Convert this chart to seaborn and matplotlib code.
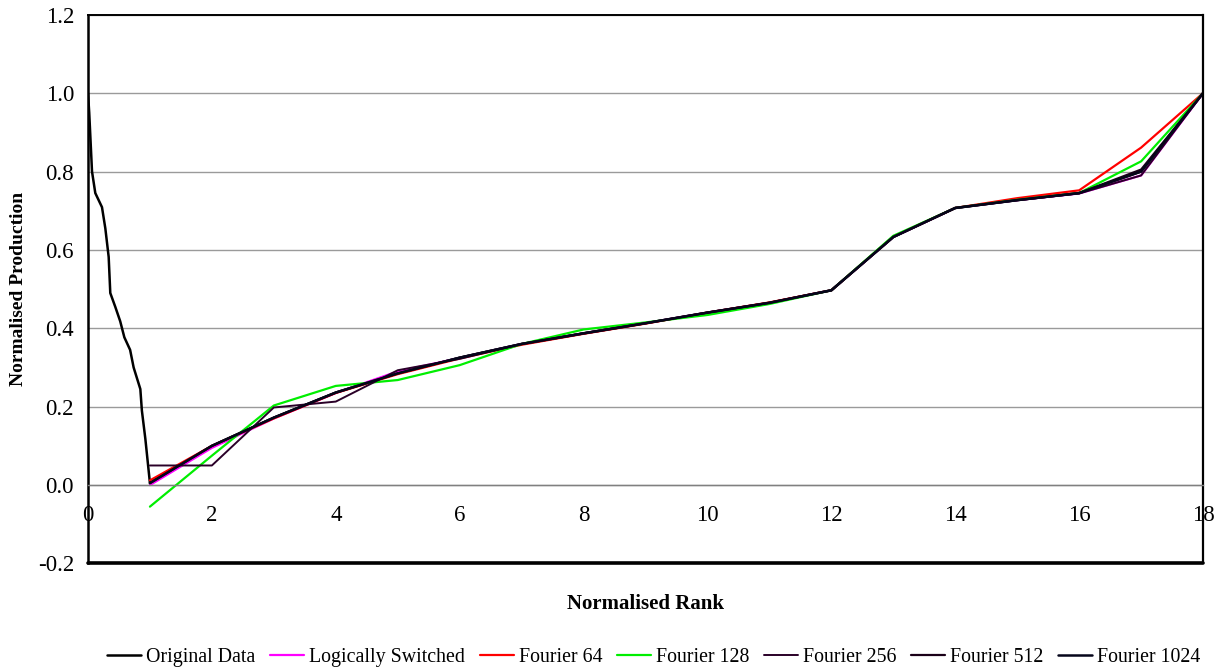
import numpy as np
import pandas as pd
import matplotlib
matplotlib.use("Agg")
import matplotlib.pyplot as plt
import seaborn as sns

# ---- data -------------------------------------------------------------
# Original data: steep fall over the first rank, then the ranked trend 1..18
orig_head_x = [0.0, 0.02, 0.065, 0.118, 0.226, 0.28, 0.334, 0.36, 0.44, 0.52,
               0.587, 0.68, 0.737, 0.79, 0.845, 0.87, 0.926]
orig_head_y = [1.0, 0.95, 0.80, 0.745, 0.709, 0.655, 0.582, 0.49, 0.455, 0.418,
               0.377, 0.345, 0.30, 0.273, 0.245, 0.19, 0.118]

ranks = list(range(1, 19))
original = [0.005, 0.10, 0.172, 0.236, 0.285, 0.325, 0.36, 0.387, 0.413,
            0.44, 0.465, 0.497, 0.633, 0.707, 0.727, 0.745, 0.80, 1.0]
logically_switched = [0.0, 0.095, 0.17, 0.235, 0.29, 0.324, 0.36, 0.387, 0.413,
                      0.44, 0.465, 0.497, 0.633, 0.707, 0.727, 0.744, 0.79, 1.0]
fourier_64 = [0.012, 0.10, 0.17, 0.235, 0.283, 0.323, 0.358, 0.386, 0.412,
              0.44, 0.466, 0.497, 0.634, 0.707, 0.732, 0.752, 0.861, 1.0]
fourier_128 = [-0.055, 0.075, 0.203, 0.253, 0.268, 0.306, 0.36, 0.397, 0.415,
               0.434, 0.462, 0.497, 0.636, 0.707, 0.728, 0.745, 0.826, 1.0]
fourier_256 = [0.05, 0.05, 0.198, 0.213, 0.293, 0.322, 0.36, 0.388, 0.413,
               0.44, 0.465, 0.497, 0.633, 0.707, 0.727, 0.744, 0.79, 1.0]
fourier_512 = [0.005, 0.10, 0.172, 0.236, 0.285, 0.325, 0.36, 0.387, 0.413,
               0.44, 0.465, 0.497, 0.633, 0.707, 0.727, 0.745, 0.805, 1.0]
fourier_1024 = [0.005, 0.10, 0.172, 0.236, 0.285, 0.325, 0.36, 0.387, 0.413,
                0.44, 0.465, 0.497, 0.633, 0.707, 0.727, 0.745, 0.80, 1.0]

series_names = ["Original Data", "Logically Switched", "Fourier 64", "Fourier 128",
                "Fourier 256", "Fourier 512", "Fourier 1024"]
series_colors = ["#000000", "#ff00ff", "#ff0000", "#00ee00",
                 "#2a0028", "#1a0018", "#05051a"]
series_widths = [1.8, 1.6, 1.6, 1.6, 1.4, 1.6, 1.8]

x_ticks = list(range(0, 19, 2))
y_ticks = [-0.2, 0.0, 0.2, 0.4, 0.6, 0.8, 1.0, 1.2]

# ---- long-form table --------------------------------------------------
frames = []
orig_x = orig_head_x + ranks
orig_y = orig_head_y + original
frames.append(pd.DataFrame({"rank": orig_x, "value": orig_y,
                            "series": series_names[0], "order": range(len(orig_x))}))
for name, vals in zip(series_names[1:], [logically_switched, fourier_64, fourier_128,
                                         fourier_256, fourier_512, fourier_1024]):
    frames.append(pd.DataFrame({"rank": ranks, "value": vals,
                                "series": name, "order": range(len(ranks))}))
df = pd.concat(frames, ignore_index=True)

# ---- styling ----------------------------------------------------------
sns.set_style("white")
plt.rcParams["font.family"] = ["Liberation Serif", "DejaVu Serif"]
plt.rcParams["text.color"] = "black"
plt.rcParams["axes.labelcolor"] = "black"
plt.rcParams["xtick.labelcolor"] = "black"
plt.rcParams["ytick.labelcolor"] = "black"

fig = plt.figure(figsize=(12.22, 6.70), dpi=100)
ax = fig.add_axes([0.072, 0.159, 0.9125, 0.819])

for name, color, lw in zip(series_names, series_colors, series_widths):
    sub = df[df["series"] == name]
    sns.lineplot(data=sub, x="rank", y="value", color=color, linewidth=lw,
                 sort=False, estimator=None, ax=ax, label=name, legend=False)

ax.set_xlim(0, 18)
ax.set_ylim(-0.2, 1.2)
ax.set_xticks(x_ticks)
ax.set_yticks(y_ticks)
ax.set_yticklabels([f"{v:.1f}" for v in y_ticks])
ax.grid(axis="y", color="#9a9a9a", linewidth=1.0)
ax.grid(axis="x", visible=False)
ax.set_axisbelow(True)

# horizontal axis crosses at zero; box drawn round the plot area
ax.spines["bottom"].set_position(("data", 0))
ax.spines["bottom"].set_color("#808080")
ax.spines["bottom"].set_linewidth(1.0)
for side, lw in [("left", 1.8), ("right", 1.6), ("top", 1.4)]:
    ax.spines[side].set_color("black")
    ax.spines[side].set_linewidth(lw)
ax.axhline(-0.2, color="black", linewidth=2.6, clip_on=False, zorder=5)

ax.tick_params(axis="x", direction="out", length=4, width=1, color="#808080",
               pad=10, labelsize=16.5, labelcolor="black")
ax.tick_params(axis="y", length=0, pad=10, labelsize=16.5, labelcolor="black")

ax.set_xlabel("Normalised Rank", fontsize=15, fontweight="bold", color="black")
ax.set_ylabel("Normalised Production", fontsize=14, fontweight="bold", color="black")
ax.xaxis.set_label_coords(0.5, -0.056)
ax.yaxis.set_label_coords(-0.055, 0.5)

handles, labels = ax.get_legend_handles_labels()
fig.legend(handles, labels, ncol=7, loc="center", bbox_to_anchor=(0.535, 0.018),
           frameon=False, fontsize=14.3, handlelength=1.7, handletextpad=0.25,
           columnspacing=0.75)

fig.savefig("out.png", dpi=100, facecolor="white")
